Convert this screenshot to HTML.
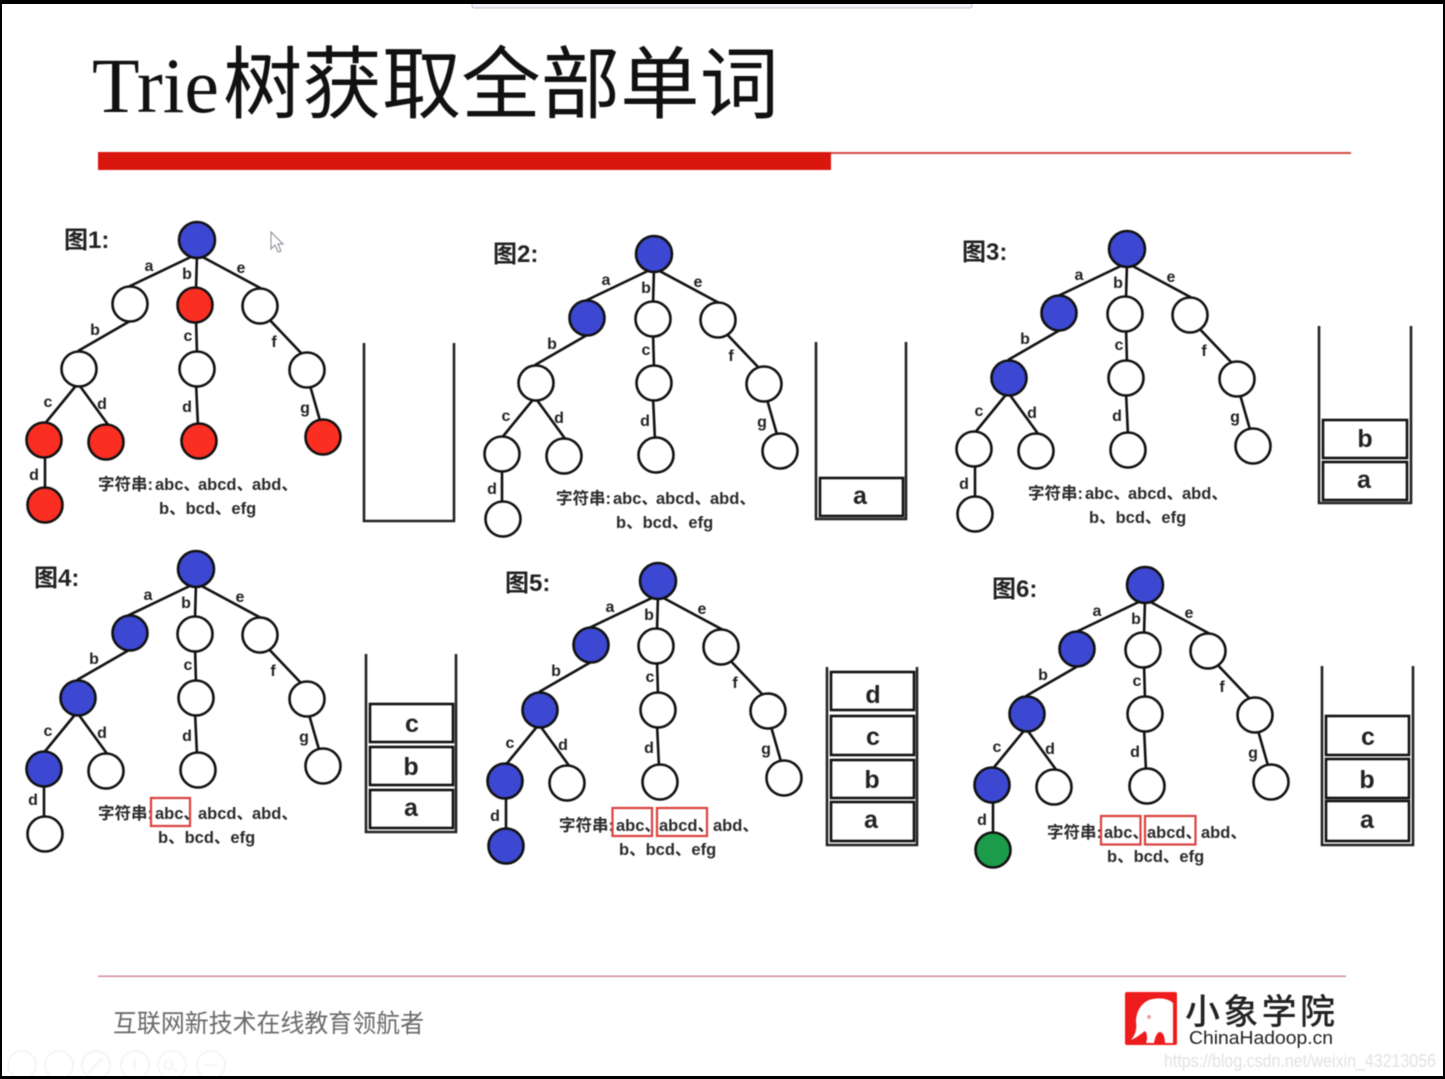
<!DOCTYPE html>
<html><head><meta charset="utf-8"><title>Trie树获取全部单词</title>
<style>
html,body{margin:0;padding:0;background:#fff;width:1445px;height:1079px;overflow:hidden}
svg{display:block;position:absolute;left:0;top:0}
.art{filter:blur(.5px)}
.n circle{stroke:#111;stroke-width:2.6;fill:#fff}
circle.b{fill:#3c48d2!important}
circle.r{fill:#fb2e22!important}
circle.g{fill:#1c9c4a!important}
.l text{font:bold 16px "Liberation Sans",sans-serif;fill:#222;text-anchor:middle}
.t{font:bold 16.500px "Liberation Sans","Noto Sans CJK SC",sans-serif;fill:#2a2a2a}
.h{font:bold 24px "Liberation Sans","Noto Sans CJK SC",sans-serif;fill:#222}
.s path{fill:none;stroke:#222;stroke-width:2.6}
.s rect{fill:#fff;stroke:#111;stroke-width:2.6}
.s text{font:bold 25px "Liberation Sans",sans-serif;fill:#222;text-anchor:middle}
.hl{fill:none;stroke:#d9423f;stroke-width:2.2}
</style></head><body>
<svg width="1445" height="1079" viewBox="0 0 1445 1079" xmlns="http://www.w3.org/2000/svg">
<defs>
<g id="edges" stroke="#111" stroke-width="2.6" fill="none">
<path d="M0 14L-69 47M0 14L-1 50M0 14L67 50M-60 77L-119 111M-1 78L0 114M68 75L105 114M-118 142L-154 186M-120 142L-88 186M-1 143L1 186M112 142L124 184M-152 214L-152 250"/>
</g>
</defs>
<rect width="1445" height="1079" fill="#fff"/>
<g class="art">
<text x="92" y="112" font-family="Liberation Serif,serif" font-size="78" fill="#111" textLength="127" lengthAdjust="spacingAndGlyphs">Trie</text>
<text x="223" y="112" font-family="Noto Sans CJK SC,sans-serif" font-size="79" fill="#111" textLength="556" lengthAdjust="spacingAndGlyphs">树获取全部单词</text>
<rect x="98" y="152" width="733" height="18" fill="#d9170f"/>
<rect x="831" y="152" width="520" height="2" fill="#cf4a42"/>

<!-- Tree 1 -->
<text class="h" x="64" y="248">图1:</text>
<g transform="translate(197 240)">
<use href="#edges"/>
<g class="l"><text x="-48" y="31">a</text><text x="-10" y="39">b</text><text x="44" y="33">e</text><text x="-102" y="95">b</text><text x="-9" y="101">c</text><text x="77" y="107">f</text><text x="-149" y="167">c</text><text x="-95" y="169">d</text><text x="-10" y="172">d</text><text x="108" y="173">g</text><text x="-163" y="240">d</text></g>
<g class="n"><circle class="b" r="18"/><circle cx="-67" cy="64" r="17.5"/><circle class="r" cx="-2" cy="65" r="17.5"/><circle cx="63" cy="66" r="17.5"/><circle cx="-118" cy="129" r="17.5"/><circle cx="0" cy="129" r="17.5"/><circle cx="110" cy="130" r="17.5"/><circle class="r" cx="-153" cy="200" r="17.5"/><circle class="r" cx="-91" cy="202" r="17.5"/><circle class="r" cx="2" cy="201" r="17.5"/><circle class="r" cx="126" cy="197" r="17.5"/><circle class="r" cx="-152" cy="265" r="17.5"/></g>
</g>
<g transform="translate(98 490)"><text class="t">字符串:</text><text class="t" x="57">abc、</text><text class="t" x="100">abcd、</text><text class="t" x="154">abd、</text><text class="t" x="61" y="24">b、bcd、efg</text></g>
<path d="M271 232v17l4-4 3 7 3-1-3-7h5z" fill="#fff" stroke="#889" stroke-width="1"/>
<g class="s"><path d="M364 343V521H454V343"/></g>

<!-- Tree 2 -->
<text class="h" x="493" y="262">图2:</text>
<g transform="translate(654 254)">
<use href="#edges"/>
<g class="l"><text x="-48" y="31">a</text><text x="-8" y="39">b</text><text x="44" y="33">e</text><text x="-102" y="95">b</text><text x="-8" y="101">c</text><text x="77" y="107">f</text><text x="-148" y="167">c</text><text x="-95" y="169">d</text><text x="-9" y="172">d</text><text x="108" y="173">g</text><text x="-162" y="240">d</text></g>
<g class="n"><circle class="b" r="18"/><circle class="b" cx="-67" cy="64" r="17.5"/><circle cx="-1" cy="65" r="17.5"/><circle cx="64" cy="66" r="17.5"/><circle cx="-118" cy="129" r="17.5"/><circle cx="0" cy="129" r="17.5"/><circle cx="110" cy="130" r="17.5"/><circle cx="-152" cy="200" r="17.5"/><circle cx="-90" cy="202" r="17.5"/><circle cx="2" cy="201" r="17.5"/><circle cx="126" cy="197" r="17.5"/><circle cx="-151" cy="265" r="17.5"/></g>
</g>
<g transform="translate(556 504)"><text class="t">字符串:</text><text class="t" x="57">abc、</text><text class="t" x="100">abcd、</text><text class="t" x="154">abd、</text><text class="t" x="60" y="24">b、bcd、efg</text></g>
<g class="s"><path d="M816 342V519H906V342"/><rect x="820" y="478" width="83" height="38"/><text x="860" y="504">a</text></g>

<!-- Tree 3 -->
<text class="h" x="962" y="260">图3:</text>
<g transform="translate(1127 249)">
<use href="#edges"/>
<g class="l"><text x="-48" y="31">a</text><text x="-9" y="39">b</text><text x="44" y="33">e</text><text x="-102" y="95">b</text><text x="-8" y="101">c</text><text x="77" y="107">f</text><text x="-148" y="167">c</text><text x="-95" y="169">d</text><text x="-10" y="172">d</text><text x="108" y="173">g</text><text x="-163" y="240">d</text></g>
<g class="n"><circle class="b" r="18"/><circle class="b" cx="-68" cy="64" r="17.5"/><circle cx="-2" cy="65" r="17.5"/><circle cx="63" cy="66" r="17.5"/><circle class="b" cx="-118" cy="129" r="17.5"/><circle cx="-1" cy="129" r="17.5"/><circle cx="110" cy="130" r="17.5"/><circle cx="-153" cy="200" r="17.5"/><circle cx="-91" cy="202" r="17.5"/><circle cx="1" cy="201" r="17.5"/><circle cx="126" cy="197" r="17.5"/><circle cx="-152" cy="265" r="17.5"/></g>
</g>
<g transform="translate(1028 499)"><text class="t">字符串:</text><text class="t" x="57">abc、</text><text class="t" x="100">abcd、</text><text class="t" x="154">abd、</text><text class="t" x="61" y="24">b、bcd、efg</text></g>
<g class="s"><path d="M1319 326V503H1411V326"/><rect x="1323" y="420" width="84" height="38"/><rect x="1323" y="462" width="84" height="38"/><text x="1365" y="447">b</text><text x="1364" y="488">a</text></g>

<!-- Tree 4 -->
<text class="h" x="34" y="586">图4:</text>
<g transform="translate(196 569)">
<use href="#edges"/>
<g class="l"><text x="-48" y="31">a</text><text x="-10" y="39">b</text><text x="44" y="33">e</text><text x="-102" y="95">b</text><text x="-8" y="101">c</text><text x="77" y="107">f</text><text x="-148" y="167">c</text><text x="-94" y="169">d</text><text x="-9" y="172">d</text><text x="108" y="173">g</text><text x="-163" y="236">d</text></g>
<g class="n"><circle class="b" r="18"/><circle class="b" cx="-66" cy="64" r="17.5"/><circle cx="-1" cy="65" r="17.5"/><circle cx="64" cy="66" r="17.5"/><circle class="b" cx="-118" cy="129" r="17.5"/><circle cx="0" cy="129" r="17.5"/><circle cx="111" cy="130" r="17.5"/><circle class="b" cx="-152" cy="200" r="17.5"/><circle cx="-90" cy="202" r="17.5"/><circle cx="2" cy="201" r="17.5"/><circle cx="127" cy="197" r="17.5"/><circle cx="-151" cy="265" r="17.5"/></g>
</g>
<g transform="translate(98 819)"><text class="t">字符串:</text><text class="t" x="57">abc、</text><text class="t" x="100">abcd、</text><text class="t" x="154">abd、</text><text class="t" x="60" y="24">b、bcd、efg</text></g>
<rect class="hl" x="151" y="798" width="39" height="28"/>
<g class="s"><path d="M366 654V832H456V654"/><rect x="370" y="704" width="83" height="38"/><rect x="370" y="747" width="83" height="38"/><rect x="370" y="790" width="83" height="38"/><text x="412" y="732">c</text><text x="411" y="775">b</text><text x="411" y="816">a</text></g>

<!-- Tree 5 -->
<text class="h" x="505" y="591">图5:</text>
<g transform="translate(658 581)">
<use href="#edges"/>
<g class="l"><text x="-48" y="31">a</text><text x="-9" y="39">b</text><text x="44" y="33">e</text><text x="-102" y="95">b</text><text x="-8" y="101">c</text><text x="77" y="107">f</text><text x="-148" y="167">c</text><text x="-95" y="169">d</text><text x="-9" y="172">d</text><text x="108" y="173">g</text><text x="-163" y="240">d</text></g>
<g class="n"><circle class="b" r="18"/><circle class="b" cx="-67" cy="64" r="17.5"/><circle cx="-2" cy="65" r="17.5"/><circle cx="63" cy="66" r="17.5"/><circle class="b" cx="-118" cy="129" r="17.5"/><circle cx="0" cy="129" r="17.5"/><circle cx="110" cy="130" r="17.5"/><circle class="b" cx="-153" cy="200" r="17.5"/><circle cx="-91" cy="202" r="17.5"/><circle cx="2" cy="201" r="17.5"/><circle cx="126" cy="197" r="17.5"/><circle class="b" cx="-152" cy="265" r="17.5"/></g>
</g>
<g transform="translate(559 831)"><text class="t">字符串:</text><text class="t" x="57">abc、</text><text class="t" x="100">abcd、</text><text class="t" x="154">abd、</text><text class="t" x="60" y="24">b、bcd、efg</text></g>
<rect class="hl" x="612.500" y="808" width="39.500" height="28"/><rect class="hl" x="657" y="808" width="50" height="28"/>
<g class="s"><path d="M827 667V845H917V667"/><rect x="831" y="672" width="83" height="38"/><rect x="831" y="716" width="83" height="39"/><rect x="831" y="760" width="83" height="38"/><rect x="831" y="802" width="83" height="39"/><text x="873" y="703">d</text><text x="873" y="745">c</text><text x="872" y="788">b</text><text x="871" y="828">a</text></g>

<!-- Tree 6 -->
<text class="h" x="992" y="597">图6:</text>
<g transform="translate(1145 585)">
<use href="#edges"/>
<g class="l"><text x="-48" y="31">a</text><text x="-9" y="39">b</text><text x="44" y="33">e</text><text x="-102" y="95">b</text><text x="-8" y="101">c</text><text x="77" y="107">f</text><text x="-148" y="167">c</text><text x="-95" y="169">d</text><text x="-10" y="172">d</text><text x="108" y="173">g</text><text x="-163" y="240">d</text></g>
<g class="n"><circle class="b" r="18"/><circle class="b" cx="-68" cy="64" r="17.5"/><circle cx="-2" cy="65" r="17.5"/><circle cx="63" cy="66" r="17.5"/><circle class="b" cx="-118" cy="129" r="17.5"/><circle cx="0" cy="129" r="17.5"/><circle cx="110" cy="130" r="17.5"/><circle class="b" cx="-153" cy="200" r="17.5"/><circle cx="-91" cy="202" r="17.5"/><circle cx="2" cy="201" r="17.5"/><circle cx="126" cy="197" r="17.5"/><circle class="g" cx="-152" cy="265" r="17.5"/></g>
</g>
<g transform="translate(1047 838)"><text class="t">字符串:</text><text class="t" x="57">abc、</text><text class="t" x="100">abcd、</text><text class="t" x="154">abd、</text><text class="t" x="60" y="24">b、bcd、efg</text></g>
<rect class="hl" x="1101" y="816" width="39.500" height="28.500"/><rect class="hl" x="1145" y="816" width="50.500" height="28.500"/>
<g class="s"><path d="M1322 666V845H1413V666"/><rect x="1326" y="716" width="83" height="39"/><rect x="1326" y="759" width="83" height="39"/><rect x="1326" y="801" width="83" height="40"/><text x="1368" y="745">c</text><text x="1367" y="788">b</text><text x="1367" y="828">a</text></g>

<!-- Footer -->
<rect x="98" y="975.500" width="1248" height="1.500" fill="#cf8a96"/>
<text x="113" y="1032" font-family="Noto Sans CJK SC,sans-serif" font-size="25" fill="#6a6a6a" textLength="311" lengthAdjust="spacingAndGlyphs">互联网新技术在线教育领航者</text>
<rect x="1125" y="992" width="52" height="53" rx="2" fill="#ee1c1c"/>
<path d="M1131 1040c5-6 6-12 5-18 0-9 4-18 13-22 8-3 19-2 24 3v40h-8c0-6-2-11-5-11s-5 5-6 11h-8c2-5 1-10-1-12-4 3-9 7-14 9z" fill="#fff"/>
<circle cx="1149" cy="1017" r="2" fill="#e8a0a0"/>
<text x="1185" y="1024" font-family="Noto Sans CJK SC,sans-serif" font-weight="500" font-size="35" fill="#222" textLength="150" lengthAdjust="spacing">小象学院</text>
<text x="1189" y="1044" font-family="Liberation Sans,sans-serif" font-size="18" fill="#222" textLength="144" lengthAdjust="spacingAndGlyphs">ChinaHadoop.cn</text>
<text x="1164" y="1067" font-family="Liberation Sans,sans-serif" font-size="18" fill="#e2e2e2" textLength="272" lengthAdjust="spacingAndGlyphs">https://blog.csdn.net/weixin_43213056</text>
<g fill="none" stroke="#f5eff5" stroke-width="1.500">
<circle cx="22" cy="1065" r="14"/><circle cx="59" cy="1065" r="14"/><circle cx="96" cy="1065" r="14"/><circle cx="135" cy="1065" r="14"/><circle cx="172" cy="1065" r="14"/><circle cx="211" cy="1065" r="14"/>
<path d="M88 1073L103 1058M135 1058v12M168 1061a4 4 0 1 0 1 0M172 1067l5 5M205 1065h12"/>
</g>
</g>
<!-- Screen frame -->
<rect x="472" y="3" width="500" height="5" rx="2" fill="#f2f0f8" stroke="#c4c2d0" stroke-width="1"/>
<rect x="0" y="0" width="1445" height="4" fill="#000"/>
<rect x="0" y="0" width="2" height="1079" fill="#000"/>
<rect x="1443" y="0" width="2" height="1079" fill="#000"/>
<rect x="0" y="1076" width="1445" height="3" fill="#000"/>
</svg>
</body></html>
